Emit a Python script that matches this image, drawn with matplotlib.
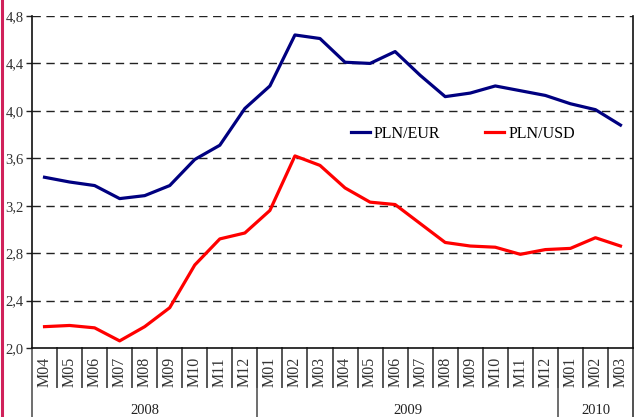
import matplotlib

matplotlib.use("Agg")
import matplotlib.pyplot as plt
from matplotlib.lines import Line2D

# monthly average exchange rates, M04 2008 .. M03 2010
months = ["M04", "M05", "M06", "M07", "M08", "M09", "M10", "M11", "M12",
          "M01", "M02", "M03", "M04", "M05", "M06", "M07", "M08", "M09",
          "M10", "M11", "M12", "M01", "M02", "M03"]
years = ["2008", "2009", "2010"]
year_spans = [(0, 9), (9, 21), (21, 24)]   # month index range per year

pln_eur = [3.44, 3.40, 3.37, 3.26, 3.285, 3.37, 3.59, 3.71, 4.02, 4.21, 4.64, 4.61,
           4.41, 4.40, 4.50, 4.30, 4.12, 4.15, 4.21, 4.17, 4.13, 4.06, 4.01, 3.88]
pln_usd = [2.18, 2.19, 2.17, 2.06, 2.18, 2.34, 2.70, 2.92, 2.97, 3.16, 3.62, 3.54,
           3.35, 3.23, 3.21, 3.05, 2.89, 2.86, 2.85, 2.79, 2.83, 2.84, 2.93, 2.86]
y_ticks = [2.0, 2.4, 2.8, 3.2, 3.6, 4.0, 4.4, 4.8]

SERIF = "Liberation Serif"
W, H = 634, 417

fig = plt.figure(figsize=(W / 100, H / 100), dpi=100)
ax = fig.add_axes([32 / W, (H - 348) / H, 601 / W, 332 / H])

n = len(months)
x = [i + 0.5 for i in range(n)]
ax.plot(x, pln_eur, color="#000080", lw=2.3, solid_joinstyle="round")
ax.plot(x, pln_usd, color="#ff0000", lw=2.3, solid_joinstyle="round")

ax.set_xlim(0, n)
ax.set_ylim(2.0, 4.8)
ax.set_yticks(y_ticks)
ax.set_yticklabels([f"{v:.1f}".replace(".", ",") for v in y_ticks],
                   fontfamily=SERIF, fontsize=10.5, color="#333333")
ax.tick_params(axis="y", direction="out", length=4, width=1, pad=2, color="#222222")
ax.set_xticks([])

for v in y_ticks[1:]:
    ax.axhline(v, color="#222222", lw=1, ls=(0, (6, 4)), zorder=0)

for side in ("left", "bottom", "right"):
    ax.spines[side].set_color("#111111")
    ax.spines[side].set_linewidth(1.2)
ax.spines["top"].set_visible(False)

# category axis: month separators, rotated labels, year groups
tr = ax.get_xaxis_transform()
for i in range(1, n):
    ax.plot([i, i], [0, -0.117], transform=tr, color="#555555", lw=1.4, clip_on=False)
for i, m in enumerate(months):
    ax.text(i + 0.5, -0.072, m, transform=tr, rotation=90, ha="center", va="center",
            fontfamily=SERIF, fontsize=11.5, color="#333333")
for (a, b), yr in zip(year_spans, years):
    ax.plot([a, a], [0, -0.21], transform=tr, color="#555555", lw=1.2, clip_on=False)
    ax.text((a + b) / 2, -0.187, yr, transform=tr, ha="center", va="center",
            fontfamily=SERIF, fontsize=10.5, color="#222222")
ax.plot([n, n], [0, -0.21], transform=tr, color="#333333", lw=1.2, clip_on=False)

handles = [Line2D([], [], color="#000080", lw=2.3), Line2D([], [], color="#ff0000", lw=2.3)]
ax.legend(handles, ["PLN/EUR", "PLN/USD"], loc="center", bbox_to_anchor=(463 / W, (H - 134) / H),
          bbox_transform=fig.transFigure, ncol=2, frameon=False, handlelength=1.2,
          handletextpad=0.25, columnspacing=2.8, prop={"family": SERIF, "size": 11.5})

# crimson page border on the left
fig.add_artist(Line2D([1.5 / W, 1.5 / W], [0, 1], color="#d0215a", lw=2.2))

fig.savefig("out.png", dpi=100)
